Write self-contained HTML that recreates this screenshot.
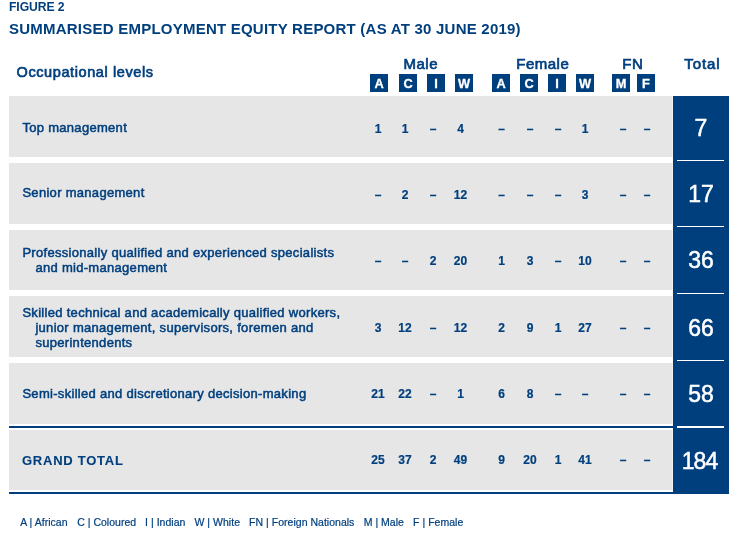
<!DOCTYPE html>
<html><head><meta charset="utf-8">
<style>
html,body{margin:0;padding:0;background:#fff;}
body{will-change:transform;width:738px;height:536px;overflow:hidden;position:relative;font-family:"Liberation Sans",sans-serif;color:#003f7e;}
.a{position:absolute;white-space:nowrap;line-height:1;}
.row{position:absolute;left:9px;width:663px;box-shadow:1px 0 0 #f2f2f2;background:#e6e6e6;}
.navy{position:absolute;left:673px;width:56px;top:96px;height:398px;background:#003f7e;}
.wl{position:absolute;left:677px;width:47px;height:1px;background:#fff;}
.bl{position:absolute;left:9px;width:664px;height:2px;background:#003f7e;}
.box{position:absolute;top:74px;width:18px;height:18px;background:#003f7e;color:#fff;font-weight:bold;font-size:12.8px;text-align:center;line-height:19px;overflow:hidden;-webkit-text-stroke:0.3px #fff;}
.hd{position:absolute;top:56px;font-size:15px;line-height:1;text-align:center;letter-spacing:0.5px;text-indent:0.5px;-webkit-text-stroke:0.7px #003f7e;}
.lab{position:absolute;left:22.4px;font-size:13px;line-height:15px;letter-spacing:0.3px;-webkit-text-stroke:0.5px #003f7e;}
.lab span{display:block;}
.lab .i{padding-left:13px;}
.d{position:absolute;width:30px;margin-left:-15px;text-align:center;font-weight:bold;font-size:12px;line-height:1;-webkit-text-stroke:0.2px #003f7e;}
.t{position:absolute;left:673px;width:56px;text-align:center;color:#fff;font-size:23px;line-height:1;-webkit-text-stroke:0.5px #fff;}
.fn{position:absolute;left:21px;letter-spacing:0.02px;top:517px;font-size:10.5px;line-height:1;white-space:nowrap;-webkit-text-stroke:0.2px #003f7e;}
</style></head>
<body>
<div class="a" style="left:9px;top:0.5px;font-weight:bold;font-size:12.2px;letter-spacing:-0.1px;">FIGURE 2</div>
<div class="a" style="left:9px;top:21px;font-weight:bold;font-size:15px;letter-spacing:0.23px;">SUMMARISED EMPLOYMENT EQUITY REPORT (AS AT 30 JUNE 2019)</div>
<div class="a" style="left:16.5px;top:65px;font-size:14.5px;letter-spacing:0.6px;-webkit-text-stroke:0.65px #003f7e;">Occupational levels</div>

<div class="hd" style="left:369.5px;width:102px;">Male</div>
<div class="hd" style="left:491.5px;width:102px;">Female</div>
<div class="hd" style="left:611px;width:43px;">FN</div>
<div class="hd" style="left:674px;width:56px;letter-spacing:0.9px;text-indent:0.9px;">Total</div>

<div class="box" style="left:370px;">A</div>
<div class="box" style="left:399px;">C</div>
<div class="box" style="left:427px;">I</div>
<div class="box" style="left:455px;">W</div>
<div class="box" style="left:492px;">A</div>
<div class="box" style="left:520px;">C</div>
<div class="box" style="left:548px;">I</div>
<div class="box" style="left:576px;">W</div>
<div class="box" style="left:612px;">M</div>
<div class="box" style="left:637px;">F</div>

<div class="row" style="top:96px;height:61px;"></div>
<div class="row" style="top:163px;height:61px;"></div>
<div class="row" style="top:230px;height:60px;"></div>
<div class="row" style="top:296px;height:61px;"></div>
<div class="row" style="top:363px;height:61px;"></div>
<div class="bl" style="top:426px;"></div>
<div class="row" style="top:430px;height:60px;"></div>
<div class="bl" style="top:492px;"></div>

<div class="navy"></div>
<div class="wl" style="top:160px;"></div>
<div class="wl" style="top:226px;"></div>
<div class="wl" style="top:293px;"></div>
<div class="wl" style="top:360px;"></div>
<div class="wl" style="top:426px;height:2px;"></div>

<div class="lab" style="top:119.5px;"><span>Top management</span></div>
<div class="lab" style="top:185px;"><span>Senior management</span></div>
<div class="lab" style="top:244.5px;line-height:15.6px;"><span>Professionally qualified and experienced specialists</span><span class="i">and mid-management</span></div>
<div class="lab" style="top:305px;"><span>Skilled technical and academically qualified workers,</span><span class="i">junior management, supervisors, foremen and</span><span class="i">superintendents</span></div>
<div class="lab" style="top:386px;"><span>Semi-skilled and discretionary decision-making</span></div>
<div class="lab" style="top:452.5px;left:22px;font-weight:bold;letter-spacing:0.75px;-webkit-text-stroke:0.1px #003f7e;"><span>GRAND TOTAL</span></div>

<div class="d" style="left:378px;top:122.5px;">1</div>
<div class="d" style="left:405px;top:122.5px;">1</div>
<div class="d" style="left:433px;top:122.5px;">–</div>
<div class="d" style="left:460.5px;top:122.5px;">4</div>
<div class="d" style="left:501.5px;top:122.5px;">–</div>
<div class="d" style="left:530px;top:122.5px;">–</div>
<div class="d" style="left:558px;top:122.5px;">–</div>
<div class="d" style="left:585px;top:122.5px;">1</div>
<div class="d" style="left:623px;top:122.5px;">–</div>
<div class="d" style="left:647px;top:122.5px;">–</div>
<div class="d" style="left:378px;top:188.5px;">–</div>
<div class="d" style="left:405px;top:188.5px;">2</div>
<div class="d" style="left:433px;top:188.5px;">–</div>
<div class="d" style="left:460.5px;top:188.5px;">12</div>
<div class="d" style="left:501.5px;top:188.5px;">–</div>
<div class="d" style="left:530px;top:188.5px;">–</div>
<div class="d" style="left:558px;top:188.5px;">–</div>
<div class="d" style="left:585px;top:188.5px;">3</div>
<div class="d" style="left:623px;top:188.5px;">–</div>
<div class="d" style="left:647px;top:188.5px;">–</div>
<div class="d" style="left:378px;top:254.5px;">–</div>
<div class="d" style="left:405px;top:254.5px;">–</div>
<div class="d" style="left:433px;top:254.5px;">2</div>
<div class="d" style="left:460.5px;top:254.5px;">20</div>
<div class="d" style="left:501.5px;top:254.5px;">1</div>
<div class="d" style="left:530px;top:254.5px;">3</div>
<div class="d" style="left:558px;top:254.5px;">–</div>
<div class="d" style="left:585px;top:254.5px;">10</div>
<div class="d" style="left:623px;top:254.5px;">–</div>
<div class="d" style="left:647px;top:254.5px;">–</div>
<div class="d" style="left:378px;top:322px;">3</div>
<div class="d" style="left:405px;top:322px;">12</div>
<div class="d" style="left:433px;top:322px;">–</div>
<div class="d" style="left:460.5px;top:322px;">12</div>
<div class="d" style="left:501.5px;top:322px;">2</div>
<div class="d" style="left:530px;top:322px;">9</div>
<div class="d" style="left:558px;top:322px;">1</div>
<div class="d" style="left:585px;top:322px;">27</div>
<div class="d" style="left:623px;top:322px;">–</div>
<div class="d" style="left:647px;top:322px;">–</div>
<div class="d" style="left:378px;top:388px;">21</div>
<div class="d" style="left:405px;top:388px;">22</div>
<div class="d" style="left:433px;top:388px;">–</div>
<div class="d" style="left:460.5px;top:388px;">1</div>
<div class="d" style="left:501.5px;top:388px;">6</div>
<div class="d" style="left:530px;top:388px;">8</div>
<div class="d" style="left:558px;top:388px;">–</div>
<div class="d" style="left:585px;top:388px;">–</div>
<div class="d" style="left:623px;top:388px;">–</div>
<div class="d" style="left:647px;top:388px;">–</div>
<div class="d" style="left:378px;top:454px;">25</div>
<div class="d" style="left:405px;top:454px;">37</div>
<div class="d" style="left:433px;top:454px;">2</div>
<div class="d" style="left:460.5px;top:454px;">49</div>
<div class="d" style="left:501.5px;top:454px;">9</div>
<div class="d" style="left:530px;top:454px;">20</div>
<div class="d" style="left:558px;top:454px;">1</div>
<div class="d" style="left:585px;top:454px;">41</div>
<div class="d" style="left:623px;top:454px;">–</div>
<div class="d" style="left:647px;top:454px;">–</div>

<div class="t" style="top:117px;">7</div>
<div class="t" style="top:183px;">17</div>
<div class="t" style="top:249px;">36</div>
<div class="t" style="top:317px;">66</div>
<div class="t" style="top:383px;">58</div>
<div class="t" style="top:450px;letter-spacing:-1px;text-indent:-3px;">184</div>

<div class="fn" style="left:20.2px;">A | African</div>
<div class="fn" style="left:77.2px;">C | Coloured</div>
<div class="fn" style="left:145.1px;">I | Indian</div>
<div class="fn" style="left:194.5px;">W | White</div>
<div class="fn" style="left:249.1px;">FN | Foreign Nationals</div>
<div class="fn" style="left:363.7px;">M | Male</div>
<div class="fn" style="left:413.1px;">F | Female</div>
</body></html>
